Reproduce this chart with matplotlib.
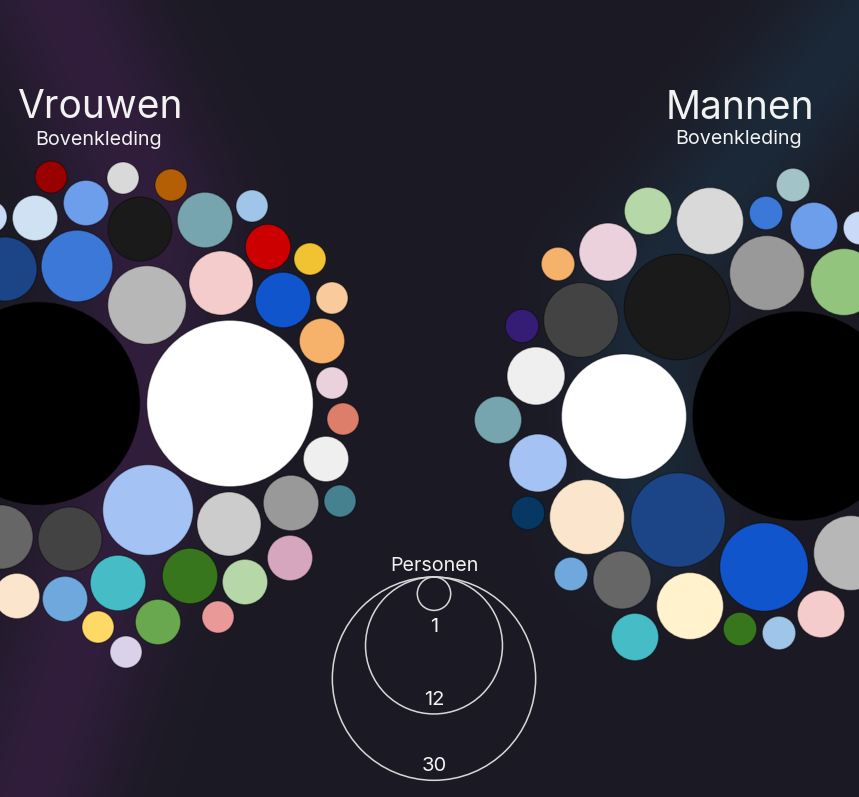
import numpy as np
import matplotlib.pyplot as plt
from matplotlib.patches import Circle

W, H = 859, 797
bg = "#1b1a24"
txt = "#f2f2f2"

# Vrouwen - bovenkleding (kleur, aantal personen, positie in de pack-layout)
v_colors = ["#000000", "#ffffff", "#a4c2f4", "#b7b7b7", "#3c78d8", "#1a1a1a", "#f4cccc",
            "#cccccc", "#434343", "#666666", "#1c4587", "#76a5af", "#1155cc", "#999999",
            "#46bdc6", "#38761d", "#cfe2f3", "#6d9eeb", "#cc0000", "#f6b26b", "#efefef",
            "#b6d7a8", "#d5a6bd", "#fce5cd", "#6fa8dc", "#6aa84f", "#990000", "#d9d9d9",
            "#b45f06", "#9fc5e8", "#f1c232", "#f9cb9c", "#ead1dc", "#dd7e6b", "#45818e",
            "#ffd966", "#ea9999", "#d9d2e9", "#c9daf8"]
v_counts = [40, 27, 8, 6, 5, 4, 4,
            4, 4, 4, 4, 3, 3, 3,
            3, 3, 2, 2, 2, 2, 2,
            2, 2, 2, 2, 2, 1, 1,
            1, 1, 1, 1, 1, 1, 1,
            1, 1, 1, 1]
v_x = [38.5, 230, 148, 147, 77, 140, 221,
       229, 70, 1, 5, 205, 283, 291,
       118, 190, 35, 86, 268, 322, 326,
       245, 290, 17, 65, 158, 51, 123,
       171, 252, 310, 332, 332, 343, 340,
       98, 218, 126, -9]
v_y = [403.5, 403.5, 510, 305, 266, 229, 283,
       524, 539, 537, 269, 220, 300, 503,
       583, 576, 218, 203, 247, 341, 459,
       582, 558, 596, 599, 622, 177, 178,
       185, 206, 259, 298, 383, 419, 501,
       627, 617, 652, 217]

# Mannen - bovenkleding
m_colors = ["#000000", "#ffffff", "#1a1a1a", "#1c4587", "#1155cc", "#434343", "#999999",
            "#fce5cd", "#b7b7b7", "#d9d9d9", "#93c47d", "#fff2cc", "#ead1dc", "#efefef",
            "#a4c2f4", "#666666", "#b6d7a8", "#6d9eeb", "#76a5af", "#f4cccc", "#46bdc6",
            "#a2c4c9", "#3c78d8", "#c9daf8", "#f6b26b", "#351c75", "#073763", "#6fa8dc",
            "#38761d", "#9fc5e8"]
m_counts = [39, 14, 10, 8, 7, 5, 5,
            5, 5, 4, 4, 4, 3, 3,
            3, 3, 2, 2, 2, 2, 2,
            1, 1, 1, 1, 1, 1, 1,
            1, 1]
m_x = [797, 624, 677, 678, 764, 581, 767,
       587, 851, 710, 844, 690, 608, 536,
       538, 622, 648, 814, 498, 821, 635,
       793, 766, 860, 558, 522, 528, 571,
       740, 779]
m_y = [416, 416.5, 307, 520, 567, 320, 273,
       517, 553, 221, 282, 606, 252, 376,
       463, 580, 211, 226, 420, 614, 637,
       185, 213, 228, 264, 326, 513, 574,
       629, 633]

legend_vals = [1, 12, 30]


def bubble_r(n, k):
    return k * np.sqrt(n)


def legend_r(v):
    # machtsschaal voor de legenda
    return 39.0 * v ** 0.34 - 22.3


def glow(xx, yy, pts, sigma):
    # afstand tot een polylijn -> zachte gloed
    d = np.full(xx.shape, 1e9)
    for (x0, y0), (x1, y1) in zip(pts[:-1], pts[1:]):
        dx, dy = x1 - x0, y1 - y0
        t = np.clip(((xx - x0) * dx + (yy - y0) * dy) / (dx * dx + dy * dy), 0, 1)
        d = np.minimum(d, np.hypot(xx - (x0 + t * dx), yy - (y0 + t * dy)))
    return np.exp(-(d / sigma) ** 2)


fig = plt.figure(figsize=(W / 100, H / 100), dpi=100, facecolor=bg)
ax = fig.add_axes([0, 0, 1, 1])
ax.set_xlim(0, W)
ax.set_ylim(H, 0)
ax.axis("off")

# achtergrond met gloed
yy, xx = np.mgrid[0:H, 0:W] + 0.5
base = np.array([0x1b, 0x1a, 0x24]) / 255
purple = np.array([0x31, 0x1e, 0x3c]) / 255
blue = np.array([0x1c, 0x29, 0x38]) / 255
gp = glow(xx, yy, [(40, -40), (150, 200), (140, 450), (15, 840)], 78)
gb = glow(xx, yy, [(940, -70), (640, 290), (650, 520)], 70)
img = base + gp[..., None] * (purple - base) + gb[..., None] * (blue - base)
ax.imshow(img, extent=[0, W, H, 0], zorder=0, interpolation="bilinear")

for cols, cnts, xs, ys, k in [(v_colors, v_counts, v_x, v_y, 16.0),
                              (m_colors, m_counts, m_x, m_y, 16.7)]:
    for c, n, x, y in zip(cols, cnts, xs, ys):
        ax.add_patch(Circle((x, y), bubble_r(n, k), facecolor=c,
                            edgecolor=(0, 0, 0, 0.35), lw=0.9, zorder=2))

font = "Inter"
ax.text(99.5, 118, "Vrouwen", color=txt, fontsize=28, ha="center", va="baseline",
        family=font)
ax.text(98.5, 145, "Bovenkleding", color=txt, fontsize=14.2, ha="center", va="baseline",
        family=font)
ax.text(740, 119, "Mannen", color=txt, fontsize=28, ha="center", va="baseline",
        family=font)
ax.text(739, 144, "Bovenkleding", color=txt, fontsize=14.2, ha="center", va="baseline",
        family=font)

# legenda
lx, ltop = 434, 577
ax.text(lx, 571, "Personen", color=txt, fontsize=14.2, ha="center", va="baseline",
        family=font)
for v in legend_vals:
    r = legend_r(v)
    ax.add_patch(Circle((lx, ltop + r), r, facecolor="none", edgecolor="#d8d8d8",
                        lw=1.1, zorder=3))
    yb = max(ltop + 2 * r - 9, ltop + 55)
    ax.text(lx, yb, str(v), color=txt, fontsize=14.5, ha="center", va="baseline",
            family=font)

fig.savefig("out.png", dpi=100, facecolor=bg)
